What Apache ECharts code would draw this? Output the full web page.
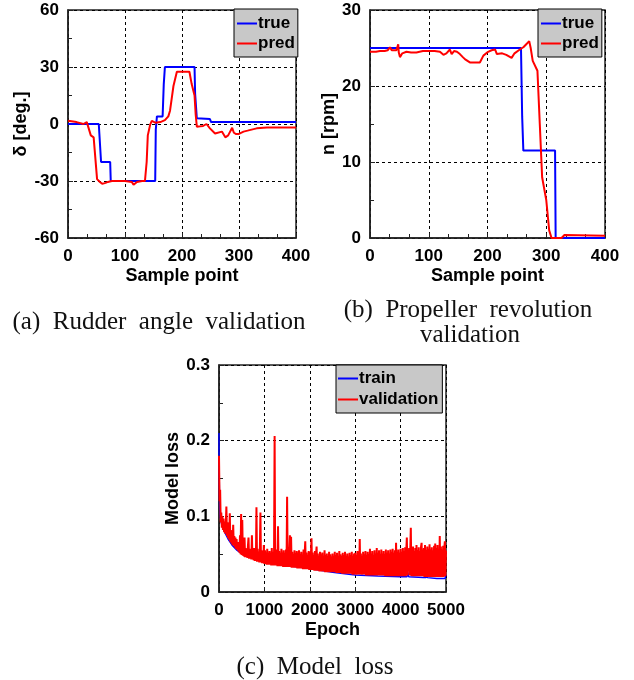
<!DOCTYPE html>
<html>
<head>
<meta charset="utf-8">
<script src="https://cdn.jsdelivr.net/npm/echarts@6/dist/echarts.min.js"></script>
<style>html,body{margin:0;padding:0;background:#fff}#c{width:634px;height:680px}</style>
</head>
<body>
<div id="c"></div>
<script>
// ---------- DATA ----------
// (a) Rudder angle validation
const aTrueX = [0,54,55,57,58,74,75,153,154,156,166,168,170,222,223,226,249,251,400];
const aTrueY = [0,0,-5,-6,-20,-20,-30,-30,-3,4,4,21,30,30,16,3,2.6,1,1];
const aPredX = [0,15,27,30,33,40,45,51,56,60,62,66,70,77,100,112,115,121,130,135,138,140,144,147,153,162,170,176,179,185,191,200,213,217,222,224,226,232,237,243,249,258,261,270,276,281,284,288,291,295,299,308,315,331,349,400];
const aPredY = [1.7,1,0,-1,1,-6,-7,-29,-30.5,-31.5,-32,-31,-30.5,-30,-30,-30.5,-32,-30.5,-30,-30,-20,-6,-0.5,1.6,0.7,1,2,4,7,20,27.5,27.5,27.5,21,15,5,-1.4,-1.2,-1,0,-2.3,-5,-5.4,-4,-7,-6,-5,-2,-4.6,-5.3,-5.3,-4,-3.5,-2.3,-1.8,-1.8];

// (b) Propeller revolution validation
const bTrueX = [0,257,259,261,315,316,400];
const bTrueY = [25,25,16,11.5,11.5,0,0];
const bPredX = [0,10,17,25,30,34,37,45,48,49,51,55,62,70,79,90,96,110,119,125,130,136,139,143,148,153,158,162,170,180,187,193,201,207,213,216,219,225,232,241,246,255,261,266,271,273.5,277,285,289,293,300,305,309,326,331,400];
const bPredY = [24.5,24.5,24.6,24.6,24.7,25.1,24.7,24.7,25.5,24.4,23.8,24.3,24.5,24.4,24.4,24.6,24.6,24.6,24.5,24.1,24.3,24.8,24.2,24.6,24.5,24.2,23.8,23.5,23.1,23.1,23.1,24.0,24.5,24.7,24.8,24.2,24.2,24.3,24.1,23.7,24.3,24.8,25.1,25.5,25.9,25.0,23.3,22.0,15,8,5,1,0,0,0.4,0.3];

// (c) Model loss
const trainEpoch = [0,0,5,15,30,60,100,150,200,300,400,500,700,1000,1500,2000,2500,3000,3500,4000,4140,4160,4180,4500,4560,4575,4590,4800,4980,5000];
const trainLoss  = [0.21,0.18,0.15,0.11,0.098,0.089,0.083,0.076,0.07,0.061,0.055,0.051,0.046,0.039,0.035,0.031,0.026,0.0225,0.021,0.02,0.02,0.026,0.02,0.019,0.019,0.023,0.019,0.018,0.018,0.023];
const valStep = 12.5; // epochs between validation samples
const valLossMilli = [ // validation loss x 1000, one row = 250 epochs
180,120,135,92,105,85,100,82,97,79,93,77,90,113,74,92,71,86,69,104,
66,82,64,78,62,89,61,74,59,72,57,70,56,66,54,64,52,75,50,103,
49,95,48,60,47,72,46,58,46,56,45,61,72,44,57,44,55,43,75,43,
56,42,58,41,54,41,112,40,57,40,53,39,56,105,39,55,38,52,38,62,
37,55,37,52,36,57,36,51,36,54,36,50,35,58,35,53,35,52,206,35,
56,35,52,34,87,34,54,34,50,34,57,34,52,33,55,33,51,33,56,33,
126,33,54,33,52,75,33,73,32,53,32,50,32,55,32,51,32,54,31,52,
31,55,31,50,31,53,31,49,30,56,30,51,67,30,52,30,49,30,54,29,
53,29,50,71,29,52,29,49,28,54,28,50,60,28,51,28,48,27,53,27,
50,27,52,27,48,27,55,26,49,26,51,26,48,26,53,26,50,26,47,26,
51,26,48,26,53,26,49,25,52,25,47,25,54,25,50,25,48,24,52,24,
49,24,53,24,48,24,51,24,47,24,52,24,49,24,53,23,48,23,51,23,
52,23,49,23,54,23,50,23,70,23,51,23,48,23,53,23,50,23,54,22,
49,22,53,22,50,22,57,22,51,22,54,22,49,22,55,22,51,22,58,22,
52,22,55,22,50,22,56,22,51,22,54,22,50,21,56,21,52,21,55,21,
51,21,56,21,53,21,57,21,52,21,55,21,65,21,53,21,56,21,52,21,
57,21,53,21,58,21,54,21,59,21,55,72,22,56,27,58,22,54,85,21,
56,21,60,21,54,21,58,21,62,21,55,21,59,21,54,21,60,65,21,56,
21,58,20,62,20,55,20,60,20,57,20,63,20,56,20,59,20,55,20,61,
20,64,20,58,20,62,20,57,20,74,20,60,20,56,20,61,20,58,67,21,
55];

const captions = ['(a)  Rudder  angle  validation', '(b)  Propeller  revolution', 'validation', '(c)  Model  loss'];

// ---------- BUILD ----------
const zip = (xs, ys) => xs.map((x, i) => [x, ys[i]]);
const valData = valLossMilli.map((v, i) => [i * valStep, v / 1000]);

const FONT = 'Liberation Sans';
const lbl = {fontFamily: FONT, fontWeight: 'bold', fontSize: 17, color: '#000'};
const nameLbl = {fontFamily: FONT, fontWeight: 'bold', fontSize: 18, color: '#000'};
const BLUE = '#0000ff', RED = '#ff0000';

function xAx(idx, max, interval, name, minorSplit) {
  return {
    type: 'value', gridIndex: idx, min: 0, max: max, interval: interval,
    name: name, nameLocation: 'middle', nameGap: 29,
    nameTextStyle: Object.assign({}, nameLbl),
    axisLine: {show: true, onZero: false, lineStyle: {color: '#222', width: 1.5}},
    axisTick: {show: true, inside: true, length: 5, lineStyle: {color: '#222'}},
    minorTick: {show: minorSplit > 0, splitNumber: minorSplit || 5, length: 4, lineStyle: {color: '#222'}},
    axisLabel: Object.assign({margin: 10, showMaxLabel: true, showMinLabel: true,
      formatter: v => String(v)}, lbl),
    splitLine: {show: true, lineStyle: {color: '#000', type: [3, 3], width: 1}}
  };
}
function yAx(idx, min, max, interval, name, gap, minorSplit) {
  return {
    type: 'value', gridIndex: idx, min: min, max: max, interval: interval,
    name: name, nameLocation: 'middle', nameGap: gap, nameRotate: 90,
    nameTextStyle: Object.assign({}, nameLbl),
    axisLine: {show: true, onZero: false, lineStyle: {color: '#222', width: 1.5}},
    axisTick: {show: true, inside: true, length: 5, lineStyle: {color: '#222'}},
    minorTick: {show: true, splitNumber: minorSplit, length: 4, lineStyle: {color: '#222'}},
    axisLabel: Object.assign({margin: 9, showMaxLabel: true, showMinLabel: true}, lbl),
    splitLine: {show: true, lineStyle: {color: '#000', type: [3, 3], width: 1}}
  };
}
function gridBox(left, top, width, height) {
  return {left, top, width, height, show: true, borderColor: '#222', borderWidth: 1.5,
          backgroundColor: 'transparent', containLabel: false, outerBoundsMode: 'none'};
}
function legendBox(left, top, names, padding, gap) {
  return {
    left, top, orient: 'vertical', data: names, icon: 'rect',
    backgroundColor: '#c8c8c8', borderColor: '#000', borderWidth: 1,
    padding: padding, itemGap: gap, itemWidth: 20, itemHeight: 2,
    textStyle: Object.assign({}, lbl, {lineHeight: 19, padding: [0, 0, 0, -4]}),
    selectedMode: false
  };
}
function line(name, data, xi, yi, color, width) {
  return {type: 'line', name, data, xAxisIndex: xi, yAxisIndex: yi, symbol: 'none',
          showSymbol: false, sampling: 'none', lineStyle: {color, width, join: 'bevel'},
          itemStyle: {color}, animation: false, z: 3};
}
const capStyle = {fontFamily: 'Liberation Serif', fontSize: 25, fill: '#111', textAlign: 'center', textVerticalAlign: 'middle'};

const option = {
  animation: false,
  grid: [gridBox(68, 10, 228, 228), gridBox(370, 10, 235, 228), gridBox(219, 365, 227, 227)],
  xAxis: [
    xAx(0, 400, 100, 'Sample point', 3),
    xAx(1, 400, 100, 'Sample point', 3),
    xAx(2, 5000, 1000, 'Epoch', 0)
  ],
  yAxis: [
    yAx(0, -60, 60, 30, 'δ [deg.]', 36, 2),
    yAx(1, 0, 30, 10, 'n [rpm]', 30, 2),
    yAx(2, 0, 0.3, 0.1, 'Model loss', 36, 2)
  ],
  legend: [
    legendBox(234, 9, ['true', 'pred'], [5, 3, 4, 3], 1),
    legendBox(538, 9, ['true', 'pred'], [5, 3, 4, 3], 1),
    legendBox(336, 365, ['train', 'validation'], [4, 4, 4, 2], 2)
  ],
  series: [
    line('true', zip(aTrueX, aTrueY), 0, 0, BLUE, 2),
    line('pred', zip(aPredX, aPredY), 0, 0, RED, 2),
    line('true', zip(bTrueX, bTrueY), 1, 1, BLUE, 2),
    line('pred', zip(bPredX, bPredY), 1, 1, RED, 2),
    line('train', zip(trainEpoch, trainLoss), 2, 2, BLUE, 1.5),
    line('validation', valData, 2, 2, RED, 2)
  ],
  graphic: [
    {type: 'text', x: 159, y: 322, style: Object.assign({text: captions[0]}, capStyle)},
    {type: 'text', x: 468, y: 310, style: Object.assign({text: captions[1]}, capStyle)},
    {type: 'text', x: 470, y: 335, style: Object.assign({text: captions[2]}, capStyle)},
    {type: 'text', x: 315, y: 667, style: Object.assign({text: captions[3]}, capStyle)}
  ]
};

const chart = echarts.init(document.getElementById('c'), null, {renderer: 'canvas'});
chart.setOption(option);
</script>
</body>
</html>
